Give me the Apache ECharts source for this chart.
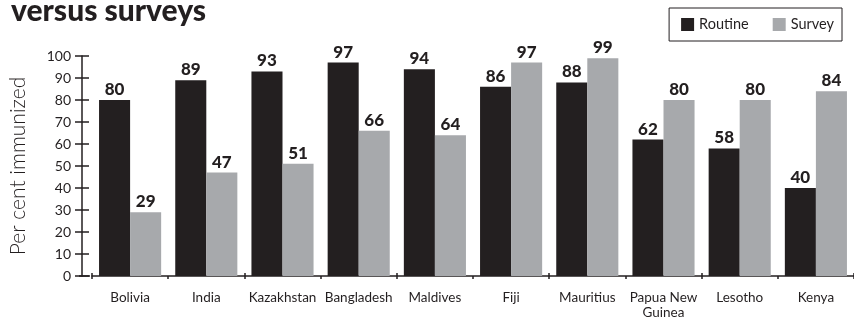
<!DOCTYPE html>
<html><head><meta charset="utf-8">
<script src="https://cdn.jsdelivr.net/npm/echarts@6/dist/echarts.min.js"></script>
<style>html,body{margin:0;padding:0;background:#fff}#c{width:854px;height:321px}</style>
</head><body><div id="c"></div>
<script>
const categories = ['Bolivia','India','Kazakhstan','Bangladesh','Maldives','Fiji','Mauritius','Papua New\nGuinea','Lesotho','Kenya'];
const routine = [80,89,93,97,94,86,88,62,58,40];
const survey = [29,47,51,66,64,97,99,80,80,84];
const yTicks = [0,10,20,30,40,50,60,70,80,90,100];

const DARK = '#231f20', GRAY = '#a7a9ac';
const FONT = 'Lato';
const chart = echarts.init(document.getElementById('c'), null, {renderer:'canvas'});
const lbl = {show:true, position:'top', distance:2, color:DARK, fontFamily:FONT, fontWeight:900, fontSize:17};
chart.setOption({
  animation:false,
  title:{text:'versus surveys', left:6, top:-9, textStyle:{fontFamily:FONT, fontWeight:900, fontSize:30, color:DARK}},
  legend:{right:12, top:8, itemWidth:13, itemHeight:13, itemGap:24, padding:[9,8,9,12],
    borderColor:DARK, borderWidth:1, borderRadius:0,
    textStyle:{fontFamily:FONT, fontSize:14.5, color:DARK},
    data:[{name:'Routine', icon:'rect'},{name:'Survey', icon:'rect'}]},
  grid:{left:89.4, top:56, width:773, height:220},
  xAxis:[
    {type:'category', data:categories, position:'bottom',
     axisLine:{lineStyle:{color:DARK, width:1.5}},
     axisTick:{show:true, length:3, lineStyle:{color:DARK, width:1.5}},
     axisLabel:{margin:14, color:DARK, fontFamily:FONT, fontSize:13.5, lineHeight:15, interval:0}},
    {type:'category', data:categories, position:'bottom',
     axisLine:{show:false},
     axisTick:{show:true, inside:true, length:3, lineStyle:{color:DARK, width:1.5}},
     axisLabel:{show:false}}
  ],
  yAxis:[
    {type:'value', min:0, max:100, interval:10, offset:10,
     name:'Per cent immunized', nameLocation:'middle', nameGap:53, nameRotate:90,
     nameTextStyle:{fontFamily:FONT, fontSize:21, fontWeight:300, color:DARK},
     axisLine:{show:true, lineStyle:{color:DARK, width:1.5}},
     axisTick:{show:true, length:7, lineStyle:{color:DARK, width:1.5}},
     splitLine:{show:false},
     axisLabel:{margin:11, color:DARK, fontFamily:FONT, fontSize:14,
       formatter:v=>yTicks.includes(v)?String(v):''}},
    {type:'value', min:0, max:100, interval:10, offset:10, position:'left',
     axisLine:{show:false},
     axisTick:{show:true, inside:true, length:7, lineStyle:{color:DARK, width:1.5}},
     splitLine:{show:false}, axisLabel:{show:false}}
  ],
  graphic:[{type:'line', shape:{x1:79, y1:276, x2:90, y2:276}, style:{stroke:DARK, lineWidth:1.5}}],
  series:[
    {name:'Routine', type:'bar', data:routine, itemStyle:{color:DARK}, barGap:'0%', barCategoryGap:'18.5%', label:lbl},
    {name:'Survey', type:'bar', data:survey, itemStyle:{color:GRAY}, barGap:'0%', barCategoryGap:'18.5%', label:lbl}
  ]
});
</script></body></html>
